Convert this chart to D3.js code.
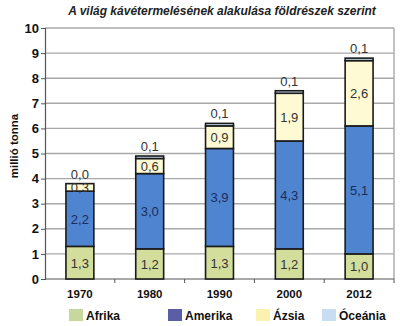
<!DOCTYPE html>
<html>
<head>
<meta charset="utf-8">
<script src="https://cdn.jsdelivr.net/npm/d3@7/dist/d3.min.js"></script>
<style>
  html, body { margin: 0; padding: 0; background: #fff; }
  svg { display: block; font-family: Arial, "Liberation Sans", sans-serif; }
</style>
</head>
<body>
<svg id="chart" width="400" height="326"></svg>
<script>
// Coffee production by continent (million tonnes)
const years = ["1970", "1980", "1990", "2000", "2012"];
const afrika = [1.3, 1.2, 1.3, 1.2, 1.0];
const amerika = [2.2, 3.0, 3.9, 4.3, 5.1];
const azsia = [0.3, 0.6, 0.9, 1.9, 2.6];
const oceania = [0.0, 0.1, 0.1, 0.1, 0.1];
const seriesNames = ["Afrika", "Amerika", "Ázsia", "Óceánia"];
const yTicks = [0, 1, 2, 3, 4, 5, 6, 7, 8, 9, 10];

const barColors = ["#d3dd9c", "#4f84d0", "#fdfad4", "#c5dcf0"];
const legendColors = ["#c8d79e", "#5a5ea6", "#fbf2b2", "#c7ddf2"];
const labelColors = ["#333", "#1c2d5c", "#333", "#333"];

const rows = years.map((y, i) => ({
  year: y, Afrika: afrika[i], Amerika: amerika[i], "Ázsia": azsia[i], "Óceánia": oceania[i]
}));

const svg = d3.select("#chart");
const m = { left: 45, right: 6, top: 28, bottom: 47 };
const W = 400, H = 326;

const x = d3.scaleBand().domain(years).range([m.left, W - m.right]);
const y = d3.scaleLinear().domain([0, 10]).range([H - m.bottom, m.top]);

// title
svg.append("text")
  .attr("x", 222).attr("y", 15)
  .attr("text-anchor", "middle")
  .attr("font-size", 12).attr("font-weight", "bold").attr("font-style", "italic")
  .attr("fill", "#222")
  .text("A világ kávétermelésének alakulása földrészek szerint");

// gridlines
svg.append("g").selectAll("line").data(yTicks.filter(d => d > 0)).join("line")
  .attr("x1", m.left).attr("x2", W - m.right)
  .attr("y1", d => y(d)).attr("y2", d => y(d))
  .attr("stroke", "#a8a8a8").attr("stroke-width", 1.4);

// right border of plot area
svg.append("line")
  .attr("x1", W - m.right).attr("x2", W - m.right)
  .attr("y1", y(10)).attr("y2", y(0))
  .attr("stroke", "#a8a8a8").attr("stroke-width", 1.4);

// y axis
const yAxis = svg.append("g")
  .attr("transform", `translate(${m.left},0)`)
  .call(d3.axisLeft(y).tickValues(yTicks).tickSize(4).tickFormat(d3.format("d")));
yAxis.select(".domain").attr("stroke", "#555").attr("stroke-width", 1.2);
yAxis.selectAll(".tick line").attr("stroke", "#555");
yAxis.selectAll("text")
  .attr("font-size", 13).attr("font-weight", "bold").attr("fill", "#111")
  .attr("font-family", "Arial, 'Liberation Sans', sans-serif").attr("x", -6);

// x axis (ticks between categories)
const xAxisG = svg.append("g").attr("transform", `translate(0,${y(0)})`);
xAxisG.append("line")
  .attr("x1", m.left).attr("x2", W - m.right)
  .attr("y1", 0).attr("y2", 0)
  .attr("stroke", "#555").attr("stroke-width", 1.2);
xAxisG.selectAll(".sep").data(years).join("line")
  .attr("class", "sep")
  .attr("x1", d => x(d) + x.bandwidth()).attr("x2", d => x(d) + x.bandwidth())
  .attr("y1", 0).attr("y2", 4)
  .attr("stroke", "#555");
xAxisG.selectAll("text").data(years).join("text")
  .attr("x", d => x(d) + x.bandwidth() / 2)
  .attr("y", 19)
  .attr("text-anchor", "middle")
  .attr("font-size", 11.5).attr("font-weight", "bold").attr("fill", "#111")
  .text(d => d);

// y axis title
svg.append("text")
  .attr("transform", `translate(18,146) rotate(-90)`)
  .attr("text-anchor", "middle")
  .attr("font-size", 11.5).attr("font-weight", "bold").attr("fill", "#111")
  .text("millió tonna");

// stacked bars
const stack = d3.stack().keys(seriesNames)(rows);
const barW = x.bandwidth() * 0.4;
const fmt = v => d3.format(".1f")(v).replace(".", ",");

const layers = svg.append("g").selectAll("g").data(stack).join("g")
  .attr("fill", (d, i) => barColors[i]);
layers.selectAll("rect").data(d => d).join("rect")
  .attr("x", d => x(d.data.year) + (x.bandwidth() - barW) / 2)
  .attr("width", barW)
  .attr("y", d => y(d[1]))
  .attr("height", d => y(d[0]) - y(d[1]))
  .attr("stroke", "#1a1a1a").attr("stroke-width", 1.6);

// value labels: Óceánia above the bar, others centred in their segment
stack.forEach((layer, i) => {
  svg.append("g").selectAll("text").data(layer).join("text")
    .attr("x", d => x(d.data.year) + x.bandwidth() / 2)
    .attr("y", d => i === 3 ? y(d[1]) - 5 : (y(d[0]) + y(d[1])) / 2 + 5)
    .attr("text-anchor", "middle")
    .attr("font-size", 13)
    .attr("fill", labelColors[i])
    .text(d => fmt(d.data[layer.key]));
});

// legend
const legendX = [69, 168, 256, 322];
const lg = svg.append("g").selectAll("g").data(seriesNames).join("g")
  .attr("transform", (d, i) => `translate(${legendX[i]},309)`);
lg.append("rect").attr("width", 14).attr("height", 12)
  .attr("fill", (d, i) => legendColors[i]);
lg.append("text").attr("x", 17).attr("y", 11)
  .attr("font-size", 12).attr("font-weight", "bold").attr("fill", "#111")
  .text(d => d);
</script>
</body>
</html>
